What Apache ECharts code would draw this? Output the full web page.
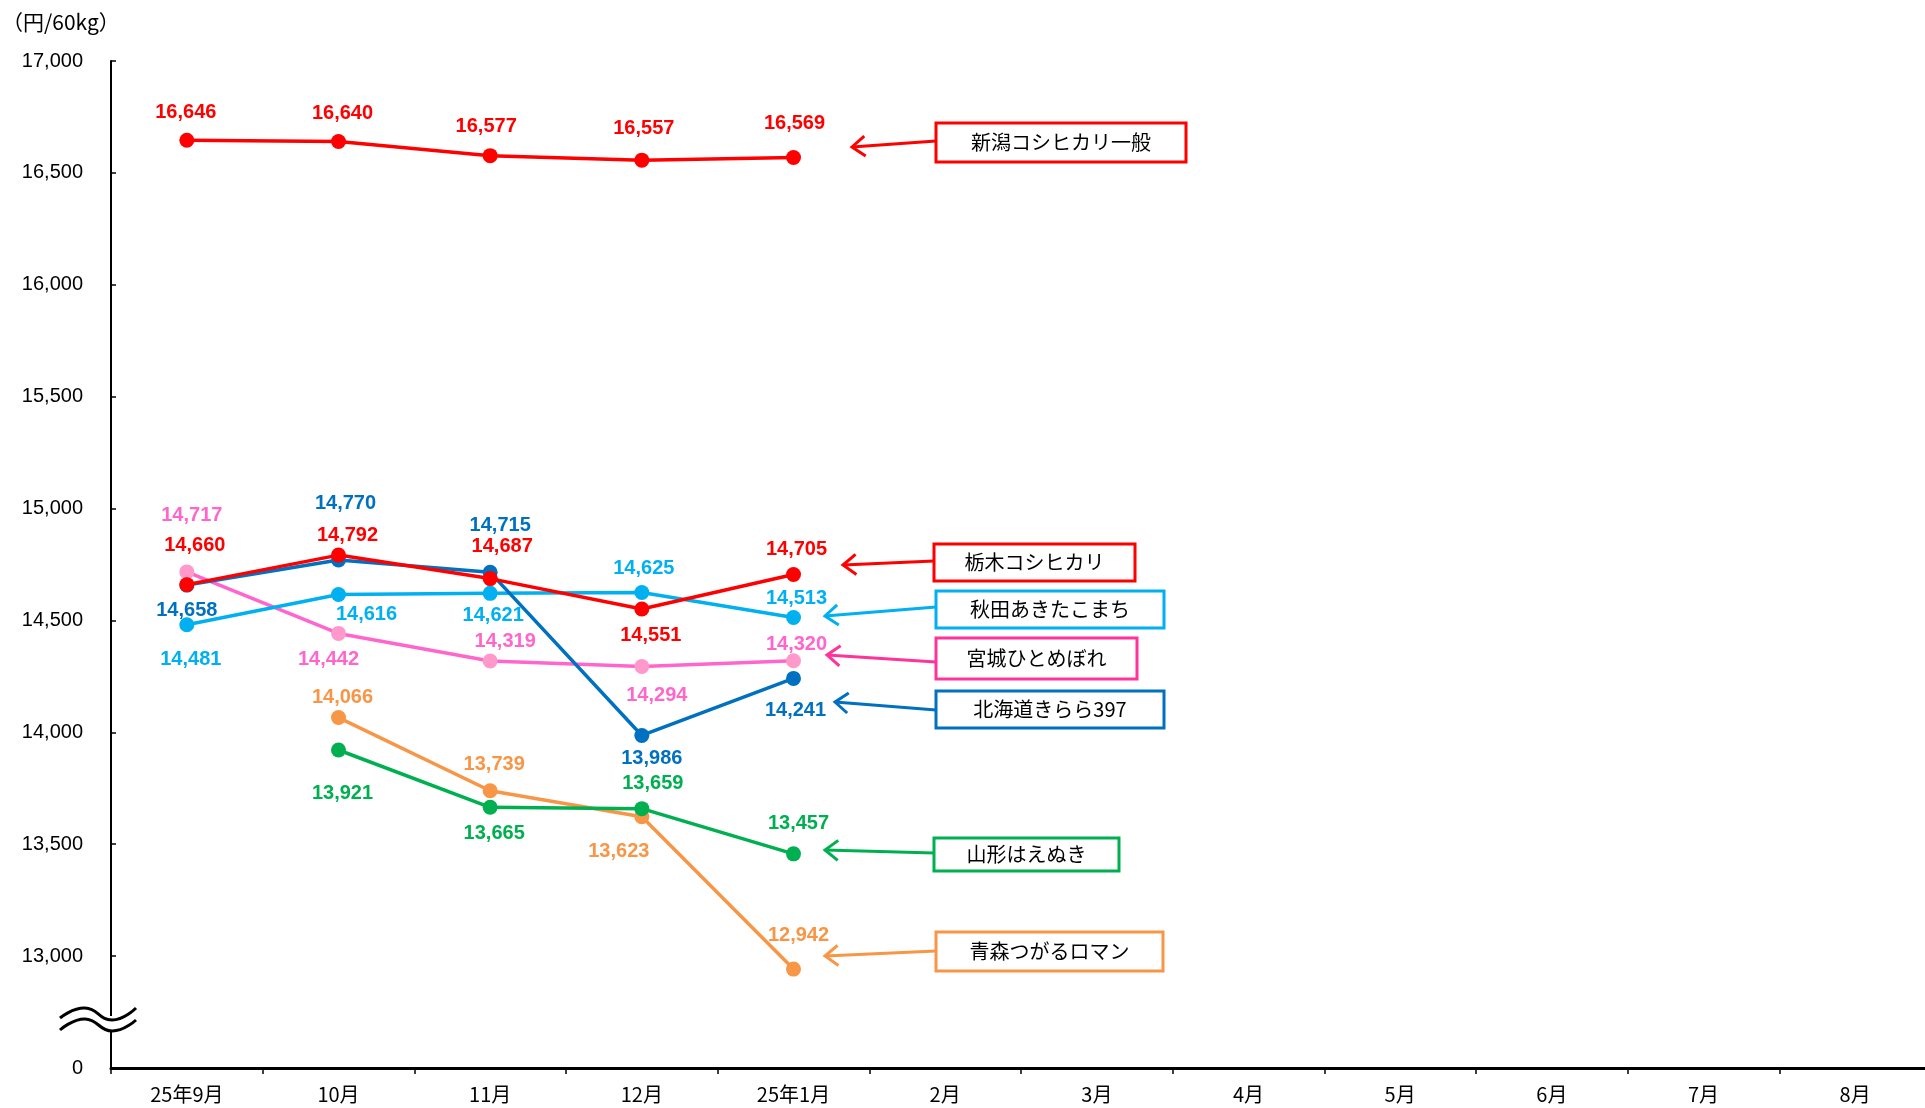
<!DOCTYPE html>
<html>
<head>
<meta charset="utf-8">
<script src="https://cdn.jsdelivr.net/npm/echarts@6/dist/echarts.min.js"></script>
<style>
html,body{margin:0;padding:0;background:#fff;overflow:hidden;}
#chart{width:1925px;height:1108px;}
</style>
</head>
<body>
<div id="chart"></div>
<script>
// ---- data ----
const categories = ['25年9月','10月','11月','12月','25年1月','2月','3月','4月','5月','6月','7月','8月'];
const yTickLabels = ['0','13,000','13,500','14,000','14,500','15,000','15,500','16,000','16,500','17,000'];
const niigata  = [16646,16640,16577,16557,16569,null,null,null,null,null,null,null];
const tochigi  = [14660,14792,14687,14551,14705,null,null,null,null,null,null,null];
const akita    = [14481,14616,14621,14625,14513,null,null,null,null,null,null,null];
const miyagi   = [14717,14442,14319,14294,14320,null,null,null,null,null,null,null];
const hokkaido = [14658,14770,14715,13986,14241,null,null,null,null,null,null,null];
const yamagata = [null,13921,13665,13659,13457,null,null,null,null,null,null,null];
const aomori   = [null,14066,13739,13623,12942,null,null,null,null,null,null,null];
const seriesNames = ['新潟コシヒカリ一般','栃木コシヒカリ','秋田あきたこまち','宮城ひとめぼれ','北海道きらら397','山形はえぬき','青森つがるロマン'];

// ---- label placement (pixels relative to point) ----
const offNiigata  = [[-1,-28],[4,-28],[-4,-29],[2,-32],[1,-34]];
const offTochigi  = [[8,-39],[9,-20],[12,-32],[9,26],[3,-25]];
const offAkita    = [[4,35],[28,20],[3,22],[2,-24],[3,-19]];
const offMiyagi   = [[5,-56],[-10,26],[15,-19],[15,29],[3,-16]];
const offHokkaido = [[0,25],[7,-57],[10,-47],[10,23],[2,32]];
const offYamagata = [null,[4,43],[4,26],[11,-25],[5,-30]];
const offAomori   = [null,[4,-20],[4,-26],[-23,35],[5,-34]];

function fmt(v){ return v.toLocaleString('en-US'); }

function mkSeries(name, values, offs, lineColor, symColor, labelColor, z){
  return {
    type:'line', name:name, z:z,
    data: values.map((v,i)=>{
      if(v==null) return null;
      const o = offs[i] || [0,-20];
      return {value:v, label:{show:true, position:'inside', offset:o}};
    }),
    symbol:'circle', symbolSize:15,
    lineStyle:{color:lineColor, width:3.5},
    itemStyle:{color:symColor},
    label:{show:true, color:labelColor, fontSize:20, fontWeight:'bold',
           fontFamily:'Liberation Sans', formatter:p=>fmt(p.value)},
    emphasis:{disabled:true},
    silent:true
  };
}

// annotation boxes: [label, color, boxX, boxY, boxW, boxH, tailX, tailY, tipX, tipY]
const annotations = [
  ['新潟コシヒカリ一般','#FF0000',936,123,250,39, 936,141, 852,147],
  ['栃木コシヒカリ','#FF0000',934,544,201,37, 934,561, 843,565],
  ['秋田あきたこまち','#00B0F0',936,591,228,37, 936,607, 825,616],
  ['宮城ひとめぼれ','#FF3399',936,638,201,41, 936,662, 827,655],
  ['北海道きらら397','#0070C0',936,691,228,37, 936,710, 835,702],
  ['山形はえぬき','#00B050',934,838,185,33, 934,853, 825,850],
  ['青森つがるロマン','#F79646',936,932,227,39, 936,951, 825,956]
];

const graphics = [];
annotations.forEach(a=>{
  const [txt,col,bx,by,bw,bh,tx,ty,px,py] = a;
  graphics.push({type:'rect', z:50, shape:{x:bx,y:by,width:bw,height:bh},
    style:{fill:'#fff', stroke:col, lineWidth:3}});
  graphics.push({type:'text', z:51, x:bx+bw/2, y:by+bh/2,
    style:{text:txt, fill:'#000', font:'20px "Noto Sans CJK JP"', align:'center', verticalAlign:'middle'}});
  graphics.push({type:'line', z:50, shape:{x1:tx,y1:ty,x2:px,y2:py},
    style:{stroke:col, lineWidth:3}});
  const dx = tx-px, dy = ty-py, L = Math.hypot(dx,dy), ux = dx/L, uy = dy/L;
  const ax = px+ux*13, ay = py+uy*13;
  graphics.push({type:'polyline', z:50, shape:{points:[[ax-uy*10, ay+ux*10],[px,py],[ax+uy*10, ay-ux*10]]},
    style:{stroke:col, lineWidth:3, fill:null}});
});
// axis break symbol
graphics.push({type:'rect', z:60, shape:{x:104,y:1016,width:14,height:14}, style:{fill:'#fff'}});
graphics.push({type:'polyline', z:61, shape:{points:[[60,1018],[85,1008],[112,1020],[136,1008]], smooth:0.5},
  style:{stroke:'#000', lineWidth:3, fill:null}});
graphics.push({type:'polyline', z:61, shape:{points:[[60,1030],[85,1019],[112,1031],[136,1020]], smooth:0.5},
  style:{stroke:'#000', lineWidth:3, fill:null}});
// unit label
graphics.push({type:'text', z:50, x:2, y:22,
  style:{text:'（円/60kg）', fill:'#000', font:'21px "Noto Sans CJK JP"', verticalAlign:'middle'}});

const chart = echarts.init(document.getElementById('chart'));
chart.setOption({
  animation:false,
  backgroundColor:'#fff',
  grid:{left:111, top:61, width:1820, height:1007, outerBoundsMode:'none', containLabel:false},
  xAxis:{
    type:'category', data:categories, boundaryGap:true,
    axisLine:{lineStyle:{color:'#000', width:3}},
    axisTick:{show:true, length:6, lineStyle:{color:'#000', width:1.5}, alignWithLabel:false},
    axisLabel:{color:'#000', fontSize:20, fontFamily:'Noto Sans CJK JP', margin:16, interval:0},
    splitLine:{show:false}
  },
  yAxis:{
    type:'value', min:12500, max:17000, interval:500,
    axisLine:{show:true, lineStyle:{color:'#000', width:2}},
    axisTick:{show:true, inside:true, length:5, lineStyle:{color:'#000', width:1.5}},
    axisLabel:{color:'#000', fontSize:20, fontFamily:'Liberation Sans', margin:28,
      formatter:(v)=>yTickLabels[Math.round((v-12500)/500)]},
    splitLine:{show:false}
  },
  series:[
    mkSeries(seriesNames[6], aomori, offAomori, '#F79646','#F79646','#F79646',2),
    mkSeries(seriesNames[5], yamagata, offYamagata, '#00B050','#00B050','#00B050',3),
    mkSeries(seriesNames[3], miyagi, offMiyagi, '#FF66CC','#FF99CC','#FF66CC',4),
    mkSeries(seriesNames[2], akita, offAkita, '#00B0F0','#00B0F0','#00B0F0',5),
    mkSeries(seriesNames[4], hokkaido, offHokkaido, '#0070C0','#0070C0','#0070C0',6),
    mkSeries(seriesNames[1], tochigi, offTochigi, '#FF0000','#FF0000','#FF0000',7),
    mkSeries(seriesNames[0], niigata, offNiigata, '#FF0000','#FF0000','#FF0000',8)
  ],
  graphic:graphics
});
</script>
</body>
</html>
